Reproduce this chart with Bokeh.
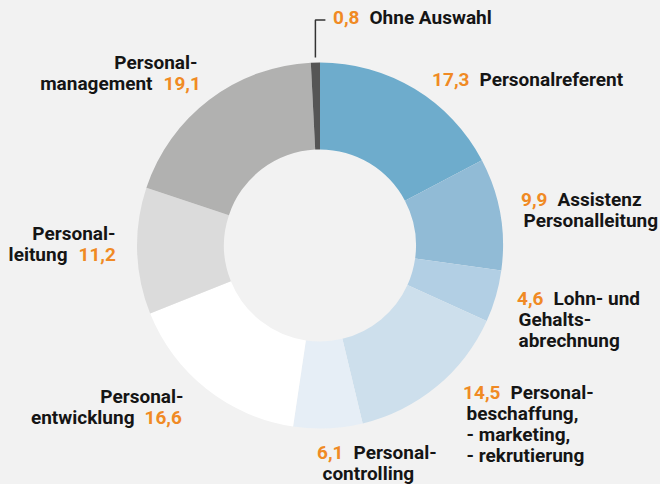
import math
from bokeh.plotting import figure
from bokeh.models import Range1d, ColumnDataSource
from bokeh.core.properties import value
from bokeh.embed import file_html
from bokeh.resources import INLINE

# ---- data (clockwise from 12 o'clock) ----
categories = ["Personalreferent", "Assistenz Personalleitung", "Lohn- und Gehaltsabrechnung",
              "Personalbeschaffung, -marketing, -rekrutierung", "Personalcontrolling",
              "Personalentwicklung", "Personalleitung", "Personalmanagement", "Ohne Auswahl"]
values = [17.3, 9.9, 4.6, 14.5, 6.1, 16.6, 11.2, 19.1, 0.8]
value_labels = ["17,3", "9,9", "4,6", "14,5", "6,1", "16,6", "11,2", "19,1", "0,8"]
label_lines = [
    ["Personalreferent"],
    ["Assistenz", "Personalleitung"],
    ["Lohn- und", "Gehalts-", "abrechnung"],
    ["Personal-", "beschaffung,", "- marketing,", "- rekrutierung"],
    ["Personal-", "controlling"],
    ["Personal-", "entwicklung"],
    ["Personal-", "leitung"],
    ["Personal-", "management"],
    ["Ohne Auswahl"],
]
colors = ["#6eaccc", "#91bbd6", "#b2cfe4", "#cddfec", "#e6eef6",
          "#ffffff", "#dbdbdb", "#b1b1b0", "#555555"]

# ---- layout (image pixel coordinates) ----
W, H = 660, 484
BG = "#f2f2f2"
ORANGE = "#f08a24"
INK = "#151515"
FONT = "Roboto"
FS = "19px"
LH = 21.3
DY = -7.0   # baseline correction
GAP = 10

cx, cy = 319.5, 245.0
R_OUT, R_IN = 183.0, 96.0

def Y(y):
    return H - y

p = figure(width=W, height=H, output_backend="svg", toolbar_location=None,
           x_range=Range1d(0, W), y_range=Range1d(0, H), min_border=0)
p.axis.visible = False
p.grid.visible = False
p.outline_line_color = None
p.background_fill_color = BG
p.border_fill_color = BG

total = sum(values)
starts, ends = [], []
acc = 0.0
for v in values:
    starts.append(math.pi / 2 - 2 * math.pi * acc / total)
    acc += v
    ends.append(math.pi / 2 - 2 * math.pi * acc / total)

src = ColumnDataSource(dict(start=starts, end=ends, color=colors, cat=categories))
p.annular_wedge(x=cx, y=Y(cy), inner_radius=R_IN, outer_radius=R_OUT,
                start_angle="start", end_angle="end", direction="clock",
                fill_color="color", line_color=None, source=src)

# leader line for the smallest slice
mid = (starts[-1] + ends[-1]) / 2
lx = cx + R_OUT * math.cos(mid)
ly_start = cy - R_OUT * math.sin(mid) - 5
p.line(x=[lx, lx, lx + 10], y=[Y(ly_start), Y(19.5), Y(19.5)], line_color="#333333", line_width=1.5)

# label anchors
right_side = {   # first-line label left x, other lines left x, baseline y
    8: (369, 333, 24),
    0: (479, 479, 86),
    1: (557, 523, 205.5),
    2: (553, 518, 304.5),
    3: (510, 466, 398.5),
    4: (353, 322, 458.5),
}
left_side = {    # number left x, first line right x, last line right x, baseline y
    7: (163, 197, 152, 68.5),
    6: (78, 115, 67, 239.5),
    5: (144, 183, 134, 402.5),
}

tx, ty, tt, ta, tc = [], [], [], [], []
def add(x, y, t, align, color):
    tx.append(x); ty.append(Y(y + DY)); tt.append(t); ta.append(align); tc.append(color)

for i, (l1x, lox, by) in right_side.items():
    add(l1x - GAP, by, value_labels[i], "right", ORANGE)
    for k, line in enumerate(label_lines[i]):
        add(l1x if k == 0 else lox, by + k * LH, line, "left", INK)

for i, (nx, r1x, rlx, by) in left_side.items():
    lines = label_lines[i]
    for k, line in enumerate(lines):
        add(r1x if k < len(lines) - 1 else rlx, by + k * LH, line, "right", INK)
    add(nx, by + (len(lines) - 1) * LH, value_labels[i], "left", ORANGE)

tsrc = ColumnDataSource(dict(x=tx, y=ty, t=tt, a=ta, c=tc))
p.text(x="x", y="y", text="t", text_align="a", text_color="c", text_baseline="alphabetic",
       text_font=value(FONT), text_font_style="bold", text_font_size=FS, source=tsrc)

html = file_html(p, INLINE)
style = "<style>html,body{margin:0 !important;padding:0;background:#f2f2f2;overflow:hidden;}</style>"
idx = html.rfind("</head>")
if idx != -1:
    html = html[:idx] + style + html[idx:]
open("out.html", "w").write(html)
